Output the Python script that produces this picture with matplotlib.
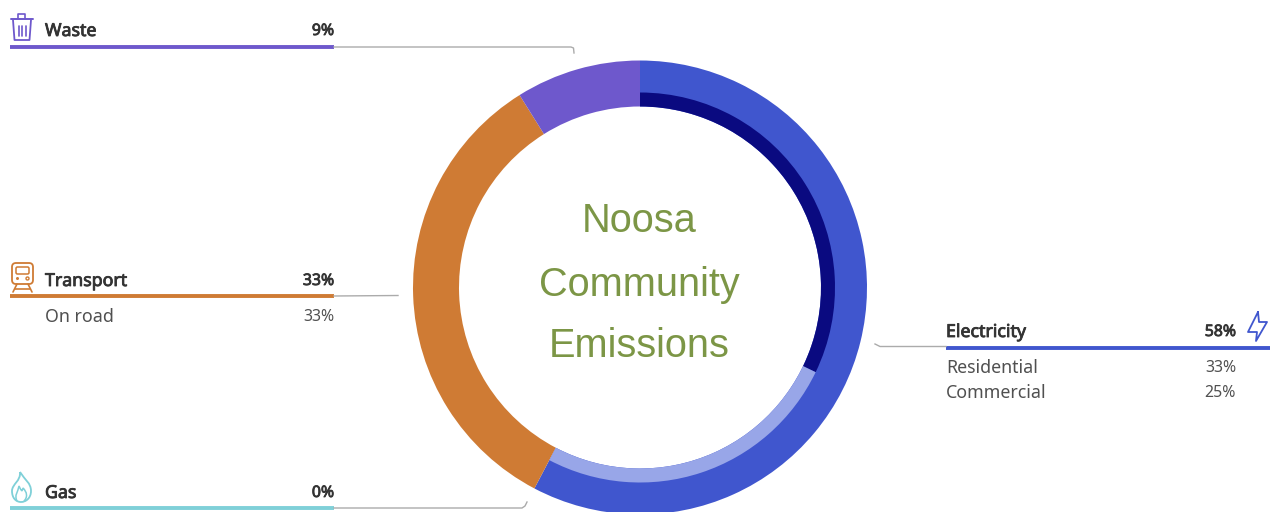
import matplotlib
matplotlib.use("Agg")
import matplotlib.pyplot as plt
import matplotlib.patheffects as pe
from matplotlib.patches import Circle, FancyBboxPatch, PathPatch
from matplotlib.path import Path

plt.rcParams['font.family'] = ['Noto Sans', 'DejaVu Sans']

# ---- data ----
sector_names = ["Electricity", "Gas", "Transport", "Waste"]
sector_labels = [58, 0, 33, 9]                 # printed percentages
sector_arcs = [57.7, 0, 33.4, 8.9]             # arc shares as read from the ring
sector_colors = ["#4056CE", "#7FD0D8", "#CF7B34", "#6E58CC"]
elec_sub_names = ["Residential", "Commercial"]
elec_sub_labels = [33, 25]
elec_sub_arcs = [32.15, 25.55]
elec_sub_colors = ["#0A0A80", "#98A6E8"]
transport_sub_names = ["On road"]
transport_sub_labels = [33]
title_lines = ["Noosa", "Community", "Emissions"]

W, H = 1272, 512
fig = plt.figure(figsize=(W / 100, H / 100), dpi=100, facecolor="white")

# ---- donut ----
cx, cy, R = 640, 287.5, 227
pie_ax = fig.add_axes([(cx - R) / W, (H - cy - R) / H, 2 * R / W, 2 * R / H])
pie_ax.pie(sector_arcs, colors=sector_colors, startangle=90, counterclock=False,
           radius=1.0, wedgeprops=dict(width=1 - 181 / R, linewidth=0))
pie_ax.pie([v / 100 for v in elec_sub_arcs], colors=elec_sub_colors,
           startangle=90, counterclock=False, radius=195 / R, normalize=False,
           wedgeprops=dict(width=14 / R, linewidth=0))
pie_ax.set_xlim(-1, 1)
pie_ax.set_ylim(-1, 1)
pie_ax.set_aspect("equal")
pie_ax.axis("off")
pie_ax.patch.set_alpha(0)

# ---- overlay in pixel coordinates ----
ax = fig.add_axes([0, 0, 1, 1])
ax.set_xlim(0, W)
ax.set_ylim(H, 0)
ax.axis("off")
ax.patch.set_alpha(0)

DARK = "#333333"
SUB = "#505050"
GREY = "#ABABAB"
SIZE = 12.8
PCT_SIZE = 11.4

def label(x, y, s, strong=False, color=None, ha="left", size=SIZE):
    color = color or (DARK if strong else SUB)
    t = ax.text(x, y, s, fontsize=size, color=color, ha=ha, va="center")
    if strong:
        t.set_path_effects([pe.withStroke(linewidth=0.6, foreground=color)])

pct = lambda v: f"{v}%"

# Waste
ax.plot([10, 334], [47, 47], color=sector_colors[3], lw=2.8, solid_capstyle="butt")
ax.plot([334, 571, 573.5, 574], [47, 47, 48, 53], color=GREY, lw=1.0)
label(45, 31, sector_names[3], True)
label(334, 31, pct(sector_labels[3]), True, ha="right", size=PCT_SIZE)

# Transport
ax.plot([10, 334], [296, 296], color=sector_colors[2], lw=2.8, solid_capstyle="butt")
ax.plot([334, 398], [296, 295.5], color=GREY, lw=1.0)
label(45, 281, sector_names[2], True)
label(334, 281, pct(sector_labels[2]), True, ha="right", size=PCT_SIZE)
label(45, 317, transport_sub_names[0])
label(334, 317, pct(transport_sub_labels[0]), ha="right", size=PCT_SIZE)

# Gas
ax.plot([10, 334], [508, 508], color=sector_colors[1], lw=2.8, solid_capstyle="butt")
ax.plot([334, 522, 525, 527], [508, 508, 506, 502], color=GREY, lw=1.0)
label(45, 493, sector_names[1], True)
label(334, 493, pct(sector_labels[1]), True, ha="right", size=PCT_SIZE)

# Electricity
ax.plot([946, 1270], [347.5, 347.5], color=sector_colors[0], lw=2.8, solid_capstyle="butt")
ax.plot([875, 880, 946], [344, 346.5, 346.5], color=GREY, lw=1.0)
label(946, 332, sector_names[0], True)
label(1236, 332, pct(sector_labels[0]), True, ha="right", size=PCT_SIZE)
for yy, n, v in zip([368, 393], elec_sub_names, elec_sub_labels):
    label(946, yy, n)
    label(1236, yy, pct(v), ha="right", size=PCT_SIZE)

# ---- title ----
for yy, s in zip([221.5, 284.5, 346], title_lines):
    ax.text(639, yy, s, family="Liberation Sans", fontsize=28.6, color="#7C9646",
            ha="center", va="center")

# ---- icons ----
def stroke(xs, ys, c, lw=1.2):
    ax.plot(xs, ys, color=c, lw=lw, solid_capstyle="round", solid_joinstyle="round")

# bin
c = sector_colors[3]
stroke([11, 33], [19, 19], c, 1.4)
stroke([18, 18, 25, 25], [18, 14, 14, 18], c)
stroke([13, 14.5, 29.5, 31], [20, 40, 40, 20], c, 1.3)
for xx in (18.5, 22, 25.5):
    stroke([xx, xx], [26, 36], c)

# train
c = sector_colors[2]
ax.add_patch(FancyBboxPatch((12, 263), 21, 21, boxstyle="round,pad=0,rounding_size=4",
                            fc="none", ec=c, lw=1.3))
ax.add_patch(FancyBboxPatch((16, 267), 13, 7, boxstyle="round,pad=0,rounding_size=1.5",
                            fc="none", ec=c, lw=1.1))
ax.add_patch(Circle((17.5, 278.5), 1.5, fc=c, ec="none"))
ax.add_patch(Circle((27.5, 278.5), 1.5, fc="none", ec=c, lw=1))
stroke([17, 13], [284, 292], c)
stroke([28, 32], [284, 292], c)
stroke([15, 30], [288.5, 288.5], c)

# flame
c = sector_colors[1]
flame = Path([(20, 472), (25, 480), (31, 483), (31, 491), (31, 498), (26, 502), (21, 502),
              (16, 502), (12, 498), (12, 491), (12, 484), (21, 481), (20, 472)],
             [Path.MOVETO] + [Path.CURVE4] * 12)
ax.add_patch(PathPatch(flame, fc="none", ec=c, lw=1.3))
inner = Path([(17, 501), (14, 495), (18, 492), (19, 486), (21, 490), (22, 493), (23, 488),
              (27, 492), (28, 497), (24, 501)],
             [Path.MOVETO] + [Path.CURVE4] * 9)
ax.add_patch(PathPatch(inner, fc="none", ec=c, lw=1.1))

# bolt
c = sector_colors[0]
stroke([1258, 1248, 1257, 1256, 1267, 1259, 1258], [312, 332, 332, 341, 322, 322, 312], c, 1.3)

fig.savefig("out.png", dpi=100, facecolor="white")
